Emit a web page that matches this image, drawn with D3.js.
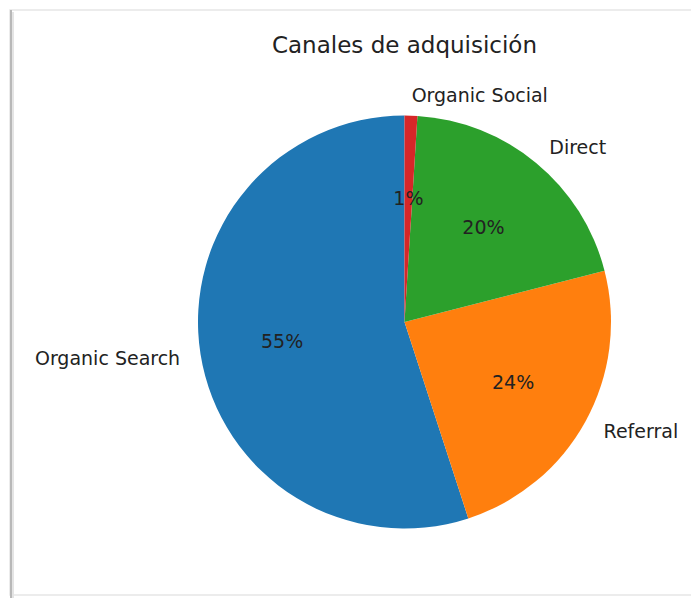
<!DOCTYPE html>
<html><head><meta charset="utf-8">
<script src="https://cdn.jsdelivr.net/npm/d3@7"></script>
<style>body{margin:0;background:#fff}svg{display:block}</style>
</head><body>
<svg id="c" width="691" height="598"></svg>
<script>
const categories = ["Organic Search", "Referral", "Direct", "Organic Social"];
const values = [55, 24, 20, 1];
const colors = ["#1f77b4", "#ff7f0e", "#2ca02c", "#d62728"];
const title = "Canales de adquisición";

const svg = d3.select("#c");
const W = 691, H = 598;
// frame of the screenshot card
svg.append("rect").attr("x", 10).attr("y", 10).attr("width", W).attr("height", 585)
  .attr("fill", "#fff").attr("stroke", "#e6e6e6").attr("stroke-width", 1.5);
svg.append("line").attr("x1", 11).attr("x2", 11).attr("y1", 10).attr("y2", 598)
  .attr("stroke", "#b8b8b8").attr("stroke-width", 2);
svg.append("line").attr("x1", 13).attr("x2", 13).attr("y1", 12).attr("y2", 598)
  .attr("stroke", "#e4e4e4").attr("stroke-width", 2);

const cx = 404.5, cy = 322, R = 206.5;
const g = svg.append("g").attr("transform", `translate(${cx},${cy})`);

const data = categories.map((c, i) => ({ name: c, value: values[i], color: colors[i] }));
const pie = d3.pie().value(d => d.value).sort(null).startAngle(0).endAngle(-2 * Math.PI);
const arcs = pie(data);
const arc = d3.arc().innerRadius(0).outerRadius(R);

g.selectAll("path").data(arcs).join("path")
  .attr("d", arc).attr("fill", d => d.data.color);

const font = "'DejaVu Sans', sans-serif";
const total = d3.sum(values);
arcs.forEach(d => {
  const mid = (d.startAngle + d.endAngle) / 2;
  const sx = Math.sin(mid), sy = -Math.cos(mid);
  // label at 1.1R
  g.append("text")
    .attr("x", sx * R * 1.1).attr("y", sy * R * 1.1)
    .attr("text-anchor", sx > 0 ? "start" : "end")
    .attr("dominant-baseline", "central")
    .attr("font-family", font).attr("font-size", 19).attr("fill", "#222")
    .text(d.data.name);
  // percentage at 0.6R
  g.append("text")
    .attr("x", sx * R * 0.6).attr("y", sy * R * 0.6)
    .attr("text-anchor", "middle")
    .attr("dominant-baseline", "central")
    .attr("font-family", font).attr("font-size", 19).attr("fill", "#222")
    .text(Math.round(d.data.value / total * 100) + "%");
});

svg.append("text").attr("x", cx).attr("y", 45)
  .attr("text-anchor", "middle").attr("dominant-baseline", "central")
  .attr("font-family", font).attr("font-size", 23).attr("fill", "#222")
  .text(title);
</script>
</body></html>
